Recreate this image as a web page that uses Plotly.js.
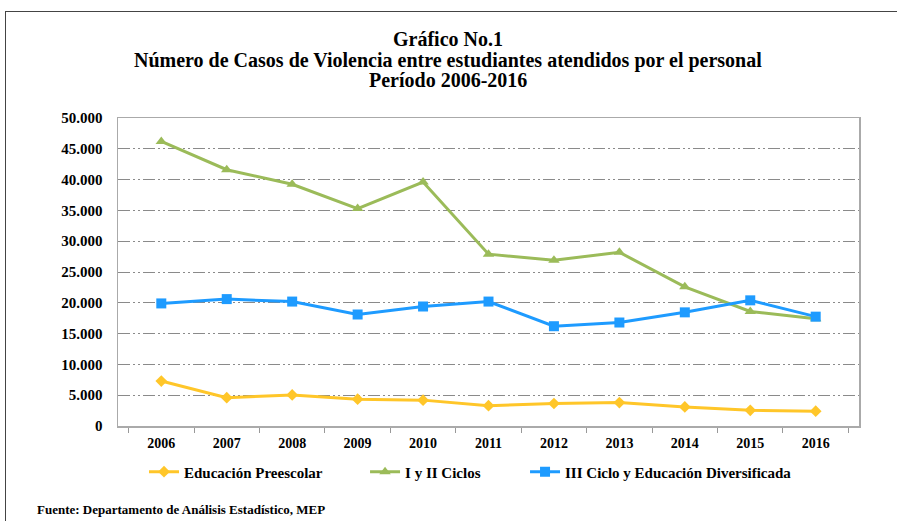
<!DOCTYPE html>
<html>
<head>
<meta charset="utf-8">
<script src="https://cdn.plot.ly/plotly-3.0.1.min.js"></script>
<style>
html,body{margin:0;padding:0;background:#fff;}
#frame{position:absolute;left:5px;top:11px;width:1000px;height:1000px;border-left:1.5px solid #444;border-top:1.5px solid #444;pointer-events:none;z-index:5;}
#chart{position:absolute;left:0;top:0;width:897px;height:521px;}
</style>
</head>
<body>
<div id="chart"></div>
<div id="frame"></div>
<script>
const years = ['2006','2007','2008','2009','2010','2011','2012','2013','2014','2015','2016'];
const preescolar = [7300, 4600, 5050, 4350, 4200, 3300, 3650, 3800, 3100, 2550, 2400];
const ciclosIyII = [46200, 41600, 39250, 35300, 39600, 27900, 26900, 28200, 22600, 18600, 17400];
const cicloIII = [19900, 20600, 20200, 18100, 19400, 20200, 16200, 16800, 18450, 20400, 17750];
const seriesNames = ['Educación Preescolar', 'I y II Ciclos', 'III Ciclo y Educación Diversificada'];
const yTicks = [0, 5000, 10000, 15000, 20000, 25000, 30000, 35000, 40000, 45000, 50000];
const titleLines = ['Gráfico No.1', 'Número de Casos de Violencia entre estudiantes atendidos por el personal', 'Período 2006-2016'];
const sourceText = 'Fuente: Departamento de Análisis Estadístico, MEP';

const font = {family: '"Liberation Serif", "Times New Roman", serif', color: '#000'};
const F = (size) => Object.assign({}, font, {size: size});

const traces = [
  {x: years, y: preescolar, name: seriesNames[0], type: 'scatter', mode: 'lines+markers', legend: 'legend',
   line: {color: '#FFC629', width: 3}, marker: {symbol: 'diamond', size: 9, color: '#FFC629'}},
  {x: years, y: ciclosIyII, name: seriesNames[1], type: 'scatter', mode: 'lines+markers', legend: 'legend2',
   line: {color: '#9BBB59', width: 3}, marker: {symbol: 'triangle-up', size: 10, color: '#9BBB59'}},
  {x: years, y: cicloIII, name: seriesNames[2], type: 'scatter', mode: 'lines+markers', legend: 'legend3',
   line: {color: '#1E9BFF', width: 3}, marker: {symbol: 'square', size: 10, color: '#1E9BFF'}}
];

const legBase = {orientation: 'h', yanchor: 'middle', y: -0.149, xanchor: 'left',
  font: Object.assign(F(15), {weight: 'bold'}), bgcolor: 'rgba(0,0,0,0)', borderwidth: 0};

const titleY = [1.2549, 1.1883, 1.1218];
const annotations = titleLines.map((t, i) => ({
  text: '<b>' + t + '</b>', xref: 'paper', yref: 'paper', x: 0.4447, y: titleY[i],
  xanchor: 'center', yanchor: 'middle', showarrow: false, font: F(20)
}));
annotations.push({
  text: '<b>' + sourceText + '</b>', xref: 'paper', yref: 'paper', x: -0.112, y: -0.2727,
  xanchor: 'left', yanchor: 'middle', showarrow: false, font: F(13)
});

const layout = {
  width: 897, height: 521,
  paper_bgcolor: '#fff', plot_bgcolor: '#fff',
  separators: ',.',
  showlegend: true,
  margin: {l: 118, r: 38, t: 118, b: 95},
  xaxis: {
    type: 'category', tickson: 'boundaries', ticks: 'outside', ticklen: 5, tickcolor: '#999',
    showline: true, linecolor: '#aaa', linewidth: 1.5, mirror: true, showgrid: false,
    ticklabelstandoff: 4,
    tickfont: Object.assign(F(14), {weight: 'bold'})
  },
  yaxis: {
    range: [0, 50000], tickvals: yTicks, tickformat: ',d',
    showline: true, linecolor: '#aaa', linewidth: 1.5, mirror: true,
    showgrid: true, gridcolor: '#8a8a8a', gridwidth: 1, griddash: '12px,3px,2px,3px,2px,3px',
    zeroline: false, ticks: '', ticklabelstandoff: 11,
    tickfont: Object.assign(F(15), {weight: 'bold'})
  },
  legend: Object.assign({}, legBase, {x: 0.0351}),
  legend2: Object.assign({}, legBase, {x: 0.3334}),
  legend3: Object.assign({}, legBase, {x: 0.5493}),
  annotations: annotations
};

Plotly.newPlot('chart', traces, layout, {displayModeBar: false, staticPlot: true});
</script>
</body>
</html>
